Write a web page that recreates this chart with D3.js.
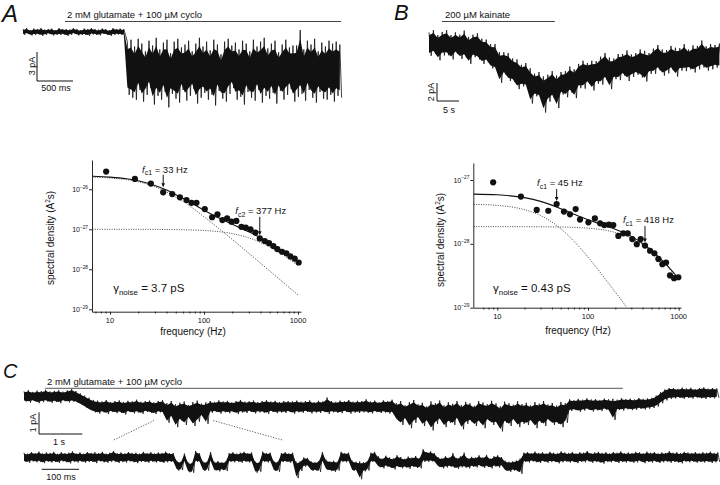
<!DOCTYPE html>
<html><head><meta charset="utf-8">
<script src="https://cdn.jsdelivr.net/npm/d3@7"></script>
<style>
body{margin:0;background:#fff}
svg{display:block}
text{font-family:"Liberation Sans",Arial,Helvetica,sans-serif;fill:#111}
</style></head>
<body><svg id="c" width="720" height="485"></svg>
<script>
// ================= DATA =================
// Panel A trace: min/max envelope per 50-ms bin (pA), t from 0 ms
const aStim = [583, 4417];            // ms, glutamate + cyclothiazide bar
const aBinMs = 50;
const aHi = [0.3,0.4,0.2,0.35,0.3,0.4,0.25,0.3,0.35,0.2,0.4,0.3,0.3,0.25,0.4,0.3,0.2,0.35,0.3,0.4,0.3,0.25,0.35,0.3,0.2,0.4,0.3,0.35,0.3,
 -1.0,-0.8,-1.5,-0.7,-1.2,-2.0,-0.9,-1.4,-0.6,-1.8,-1.1,-0.8,-2.2,-1.0,-0.7,-1.6,-1.3,-0.9,-2.0,-1.2,
 -0.6,-1.5,-1.0,-1.9,-0.8,-1.3,-2.3,-1.0,-0.7,-1.4,-1.1,-1.8,-0.9,-1.2,-2.0,-0.8,-1.5,-1.0,-0.6,-1.7,
 -1.2,-0.9,-2.1,-1.3,-0.8,-1.6,-1.4,-1.4,0.2,-1.8,-0.9,-1.3,-0.7,-2.0,-1.1,-1.5,-0.9,-1.2,-1.0,-1.3];
const aLo = [-0.3,-0.2,-0.35,-0.3,-0.25,-0.4,-0.3,-0.2,-0.35,-0.3,-0.3,-0.25,-0.4,-0.3,-0.2,-0.35,-0.3,-0.3,-0.4,-0.25,-0.3,-0.35,-0.2,-0.3,-0.4,-0.3,-0.25,-0.3,-0.35,
 -6.5,-6.8,-7.0,-6.0,-7.2,-6.5,-5.8,-7.5,-6.6,-7.0,-6.2,-7.8,-6.4,-6.9,-7.3,-6.0,-7.1,-6.6,-5.9,-7.4,
 -6.8,-6.3,-7.0,-6.5,-7.6,-6.1,-6.9,-7.2,-6.4,-5.8,-7.0,-6.7,-7.5,-6.2,-6.8,-7.1,-6.0,-7.3,-6.6,-6.9,
 -6.3,-7.4,-6.1,-7.0,-6.5,-5.9,-7.2,-6.7,-6.4,-7.1,-6.0,-6.8,-7.3,-6.2,-6.9,-7.0,-6.5,-7.2,-6.6,-6.8];

// Panel B trace: min/max per 1-s bin (pA)
const bStim = [2.95, 28.6];           // s, kainate bar
const bBinS = 1;
const bHi = [1.4,1.65,1.1,1.45,1.65,1.1,1.4,1.15,1.6,0.9,1.15,1.3,0.7,0.6,0.1,0.1,-0.8,-0.8,-0.9,-1.5,
 -1.6,-2.2,-2.0,-2.6,-3.2,-3.0,-3.5,-3.3,-2.9,-3.4,-3.0,-2.9,-2.4,-2.7,-2.1,-1.75,-2.0,-1.75,-1.8,-1.3,
 -0.9,-1.4,-1.5,-1.0,-1.0,-0.6,-1.05,-0.9,-0.5,-0.65,-0.9,-0.4,0.0,-0.5,-0.55,-0.1,-0.3,-0.35,0.1,-0.5,
 -0.05,-0.1,0.5,-0.15,0.1,0.0,0.15];
const bLo = [-1.2,-0.95,-1.7,-1.15,-1.15,-1.6,-1.0,-1.55,-1.4,-2.1,-1.35,-1.6,-2.1,-1.9,-2.6,-2.8,-4.2,-3.3,-4.0,-4.1,
 -4.9,-4.6,-4.7,-6.5,-5.7,-5.9,-7.5,-6.3,-5.9,-7.0,-5.5,-5.8,-5.3,-5.9,-4.8,-4.85,-4.3,-5.05,-4.3,-4.4,
 -3.9,-4.9,-3.8,-3.9,-3.4,-4.0,-3.55,-3.3,-3.6,-4.05,-3.2,-3.2,-2.8,-3.4,-3.15,-2.8,-3.5,-2.85,-2.9,-2.7,
 -3.05,-2.7,-2.5,-2.85,-2.7,-2.5,-2.6];

// Panel C upper trace: min/max per 0.1-s bin (pA)
const cStim = [0.49, 13.83];          // s
const cBinS = 0.1;
const cHi = [0.25,0.3,0.22,0.28,0.26,0.32,0.24,0.27,0.3,0.23,0.29,0.35,0.26,
 0.15,0.05,-0.05,-0.15,
 -0.18,-0.22,-0.15,-0.25,-0.2,-0.17,-0.24,-0.19,-0.21,-0.14,-0.23,-0.2,-0.18,-0.26,-0.2,-0.16,
 -0.3,-0.2,-0.35,-0.28,-0.22,-0.38,-0.25,-0.18,-0.32,-0.26,
 -0.2,-0.24,-0.17,-0.22,-0.19,-0.26,-0.2,-0.15,-0.23,-0.21,-0.18,-0.25,-0.2,-0.16,-0.22,-0.19,-0.24,-0.2,-0.2,-0.21,
 -0.18,-0.23,-0.2,-0.17,-0.25,-0.19,-0.22,-0.04,-0.2,-0.24,-0.18,-0.21,-0.15,-0.23,-0.19,-0.2,-0.12,-0.22,-0.18,-0.25,
 -0.17,-0.2,-0.14,
 -0.3,-0.2,-0.4,-0.25,-0.15,-0.35,-0.28,-0.45,-0.22,-0.3,-0.18,-0.4,-0.26,-0.33,-0.2,-0.38,-0.24,-0.3,-0.42,-0.2,
 -0.27,-0.35,-0.19,-0.31,-0.44,-0.23,-0.3,-0.37,-0.21,-0.34,-0.28,-0.4,-0.25,-0.32,-0.2,-0.36,-0.29,-0.41,-0.24,-0.3,
 -0.12,-0.16,-0.1,-0.14,-0.08,-0.13,-0.11,-0.15,-0.09,-0.12,-0.1,-0.14,-0.07,-0.11,-0.09,-0.13,-0.06,-0.1,-0.08,-0.05,
 0.05,0.2,0.33,0.4,
 0.4,0.36,0.42,0.38,0.41,0.35,0.4,0.43,0.37,0.4,0.38];
const cLo = [-0.22,-0.27,-0.2,-0.3,-0.25,-0.22,-0.28,-0.24,-0.3,-0.21,-0.26,-0.23,-0.28,
 -0.38,-0.5,-0.62,-0.72,
 -0.78,-0.72,-0.8,-0.7,-0.76,-0.74,-0.82,-0.71,-0.77,-0.73,-0.79,-0.7,-0.75,-0.8,-0.72,-0.76,
 -1.2,-0.95,-1.4,-1.1,-1.3,-1.0,-1.35,-1.15,-0.9,-1.25,
 -0.74,-0.7,-0.78,-0.72,-0.76,-0.71,-0.8,-0.73,-0.75,-0.7,-0.77,-0.72,-0.74,-0.79,-0.7,-0.76,-0.73,-0.75,-0.71,-0.78,
 -0.72,-0.74,-0.7,-0.77,-0.73,-0.75,-0.71,-0.79,-0.72,-0.74,-0.76,-0.7,-0.78,-0.73,-0.75,-0.72,-0.74,-0.77,-0.71,-0.75,
 -0.73,-0.78,-0.76,
 -1.1,-1.3,-1.05,-1.45,-1.2,-1.0,-1.35,-1.15,-1.55,-1.25,-1.1,-1.4,-1.2,-1.3,-1.05,-1.5,-1.25,-1.15,-1.35,-1.2,
 -1.45,-1.1,-1.3,-1.25,-1.6,-1.2,-1.35,-1.1,-1.4,-1.25,-1.3,-1.15,-1.45,-1.2,-1.35,-1.1,-1.3,-1.25,-1.4,-1.2,
 -0.66,-0.62,-0.7,-0.64,-0.6,-0.68,-0.63,-0.66,-0.6,-0.65,-1.07,-0.61,-0.64,-0.58,-0.62,-0.6,-0.56,-0.59,-0.55,-0.52,
 -0.45,-0.3,-0.17,-0.1,
 -0.08,-0.05,-0.1,-0.06,-0.09,-0.04,-0.08,-0.1,-0.06,-0.07,-0.05];

// Panel C lower (expanded) trace: min/max per 10-ms bin (pA)
const dBinMs = 10;
const dZoomSrc = [3.0, 4.37];         // s on upper trace that is expanded
const dHi = [0.22,0.18,0.25,0.2,0.27,0.19,0.23,0.21,0.26,0.17,0.24,0.2,0.22,0.28,0.19,0.23,0.18,0.25,0.21,0.24,
 0.2,0.26,0.18,0.22,0.3,0.2,0.23,0.19,0.25,0.21,0.22,0.18,0.26,0.2,0.24,0.19,0.23,0.21,0.27,0.2,
 0.2,-0.15,-0.2,0.18,-0.22,-0.25,0.3,0.2,-0.18,-0.2,0.25,-0.2,-0.17,-0.22,-0.19,
 0.2,0.24,0.18,0.22,0.26,0.2,0.23,-0.18,-0.22,0.27,0.2,0.22,-0.16,-0.2,0.2,0.24,0.19,0.22,
 -0.2,-0.18,0.0,-0.02,-0.18,-0.22,-0.16,0.25,-0.1,-0.18,-0.15,-0.2,0.26,0.2,0.22,
 -0.15,-0.2,-0.18,-0.22,-0.17,0.22,0.26,
 0.05,-0.05,0.08,0.0,-0.04,0.1,0.02,-0.06,0.04,0.0,0.07,-0.02,
 0.38,0.25,0.28,0.2,
 0.02,-0.04,0.06,0.0,0.2,-0.02,0.05,0.22,-0.03,0.03,0.0,
 0.1,0.0,0.12,-0.05,0.06,0.1,0.02,
 -0.15,-0.2,-0.18,-0.14,-0.05,
 0.22,0.25,0.2,0.27,0.21,0.24,0.19,0.26,0.22,0.2,0.28,0.23,0.21,0.25,0.19,0.24,0.22,0.3,0.2,0.23,
 0.26,0.21,0.24,0.19,0.25,0.22,0.28,0.2,0.23,0.21,0.26,0.24,0.2,0.27,0.22,0.25,0.19,0.23,0.21,0.29,
 0.22,0.24,0.2,0.26,0.23,0.21,0.25,0.2,0.24,0.22,0.27,0.21,0.23];
const dLo = [-0.2,-0.24,-0.18,-0.22,-0.2,-0.26,-0.19,-0.23,-0.21,-0.25,-0.18,-0.22,-0.27,-0.2,-0.23,-0.19,-0.24,-0.21,-0.2,-0.26,
 -0.18,-0.22,-0.24,-0.2,-0.19,-0.25,-0.21,-0.23,-0.18,-0.22,-0.26,-0.2,-0.21,-0.24,-0.19,-0.23,-0.2,-0.25,-0.22,-0.2,
 -0.22,-0.6,-0.58,-0.2,-0.68,-0.7,-0.2,-0.22,-0.62,-0.6,-0.18,-0.6,-0.64,-0.58,-0.62,
 -0.2,-0.22,-0.19,-0.24,-0.2,-0.23,-0.21,-0.7,-0.65,-0.2,-0.23,-0.19,-0.62,-0.66,-0.21,-0.2,-0.24,-0.2,
 -0.95,-0.62,-0.42,-0.4,-0.62,-0.6,-0.66,-0.2,-0.58,-0.62,-0.66,-0.6,-0.2,-0.22,-0.19,
 -0.62,-0.6,-1.0,-0.64,-0.6,-0.2,-0.22,
 -0.45,-0.5,-0.42,-0.48,-0.55,-0.44,-0.5,-0.46,-0.52,-0.43,-0.48,-0.5,
 -0.2,-0.2,-0.18,-0.22,
 -0.44,-0.5,-0.46,-0.42,-0.48,-0.52,-0.45,-0.47,-0.5,-0.43,-0.46,
 -0.4,-0.48,-0.44,-0.5,-0.42,-0.46,-0.4,
 -0.62,-0.66,-0.6,-0.64,-0.75,
 -0.2,-0.23,-0.18,-0.22,-0.25,-0.19,-0.24,-0.21,-0.2,-0.27,-0.22,-0.19,-0.23,-0.21,-0.26,-0.2,-0.22,-0.18,-0.24,-0.21,
 -0.23,-0.28,-0.2,-0.22,-0.19,-0.25,-0.21,-0.23,-0.2,-0.24,-0.22,-0.18,-0.26,-0.21,-0.23,-0.2,-0.25,-0.22,-0.19,-0.24,
 -0.21,-0.23,-0.27,-0.2,-0.22,-0.19,-0.24,-0.21,-0.23,-0.2,-0.25,-0.22,-0.2];

// Spectrum A: measured points (Hz, A^2 s)
const psdAFreq = [9.1,18.4,27.2,36.8,45.9,55.4,65.2,73.6,83.2,102,122,139,157,176,196,221,250,278,312,352,392,443,492,547,603,676,752,829,922,1017];
const psdAVal = [2.77e-26,1.82e-26,1.39e-26,8.4e-27,7.6e-27,6.3e-27,5.4e-27,4.6e-27,4.6e-27,3.2e-27,2.0e-27,2.36e-27,1.7e-27,1.87e-27,1.55e-27,1.62e-27,1.15e-27,1.1e-27,1.0e-27,8.3e-28,5.9e-28,5.1e-28,4.5e-28,3.8e-28,3.2e-28,2.75e-28,2.5e-28,2.1e-28,1.85e-28,1.48e-28];
// Spectrum A: fitted Lorentzian curves
const fitAFreq = [6.5,10,15,20,30,40,50,70,100,150,200,300,400,500,700,1000];
const fitA1 = [2.02e-26,1.92e-26,1.74e-26,1.54e-26,1.15e-26,8.6e-27,6.37e-27,3.9e-27,2.06e-27,9.7e-28,5.57e-28,2.51e-28,1.42e-28,9.1e-29,4.66e-29,2.29e-29];
const fitA2 = [1e-27,1e-27,9.98e-28,9.97e-28,9.94e-28,9.89e-28,9.83e-28,9.67e-28,9.34e-28,8.63e-28,7.8e-28,6.12e-28,4.7e-28,3.62e-28,2.25e-28,1.24e-28];
const fitASum = [2.12e-26,2.02e-26,1.84e-26,1.64e-26,1.25e-26,9.59e-27,7.35e-27,4.87e-27,2.99e-27,1.83e-27,1.34e-27,8.63e-28,6.12e-28,4.53e-28,2.72e-28,1.47e-28];

// Spectrum B
const psdBFreq = [9.0,18.2,27.2,36.5,45.1,54.3,63.3,73.1,81.6,101,119,136,151,170,190,216,245,274,308,345,381,425,483,539,597,661,725,802,889,991];
const psdBVal = [9.2e-28,5.5e-28,3.4e-28,3.3e-28,4.2e-28,3.2e-28,2.9e-28,3.5e-28,2.4e-28,2.17e-28,2.5e-28,2.1e-28,1.97e-28,2.0e-28,1.97e-28,1.33e-28,1.46e-28,1.46e-28,1.19e-28,9.9e-29,1.19e-28,9.4e-29,7.8e-29,7.1e-29,5.8e-29,4.8e-29,5.1e-29,3.2e-29,2.9e-29,3.0e-29];
const fitB1Freq = [5.5,10,20,30,45,70,100,150,200,250,265];
const fitB1 = [4.15e-28,4.0e-28,3.43e-28,2.78e-28,1.95e-28,1.1e-28,6.2e-29,3.0e-29,1.75e-29,1.15e-29,1.02e-29];
const fitBFreq = [5.5,10,20,30,45,70,100,150,200,250,300,418,500,600,700,800,900,1000];
const fitB2 = [1.86e-28,1.86e-28,1.856e-28,1.85e-28,1.84e-28,1.81e-28,1.76e-28,1.65e-28,1.51e-28,1.37e-28,1.23e-28,9.3e-29,7.6e-29,6.05e-29,4.93e-29,3.99e-29,3.3e-29,2.77e-29];
const fitBSum = [6.01e-28,5.86e-28,5.29e-28,4.63e-28,3.79e-28,2.91e-28,2.38e-28,1.95e-28,1.69e-28,1.49e-28,1.31e-28,9.7e-29,7.9e-29,6.25e-29,5.08e-29,4.1e-29,3.4e-29,2.84e-29];

const yTickVals = [1e-26,1e-27,1e-28,1e-29];
const yTickValsB = [1e-27,1e-28,1e-29];
const xTickVals = [10,100,1000];
const xMinorVals = [7,8,9,20,30,40,50,60,70,80,90,200,300,400,500,600,700,800,900];

// ================= DRAWING =================
const svg = d3.select("#c");
const INK = "#111";

function txt(g, x, y, s, size, opts) {
  opts = opts || {};
  const t = g.append("text").attr("x", x).attr("y", y).attr("font-size", size).text(s);
  if (opts.anchor) t.attr("text-anchor", opts.anchor);
  if (opts.italic) t.attr("font-style", "italic");
  if (opts.rot) t.attr("transform", `rotate(-90,${x},${y})`);
  return t;
}

// noisy trace: solid core (inner part of each bin's min–max range) plus
// a zig-zag stroke through every bin's max and min
function trace(g, xs, ys, t0, dt, hi, lo, trim, sw) {
  const n = Math.min(hi.length, lo.length);
  const d = d3.range(n).map(i => ({t: t0 + i * dt, h: hi[i], l: lo[i]}));
  g.append("path").datum(d)
    .attr("d", d3.area().x(p => xs(p.t))
      .y0(p => ys(p.l + (p.h - p.l) * trim)).y1(p => ys(p.h - (p.h - p.l) * trim)))
    .attr("fill", INK);
  const z = [];
  d.forEach(p => { z.push([xs(p.t), ys(p.h)]); z.push([xs(p.t + dt / 2), ys(p.l)]); });
  g.append("path").attr("d", d3.line()(z)).attr("fill", "none")
    .attr("stroke", INK).attr("stroke-width", sw).attr("stroke-linejoin", "bevel");
}

function hline(g, x1, x2, y, w, col) {
  g.append("line").attr("x1", x1).attr("x2", x2).attr("y1", y).attr("y2", y)
    .attr("stroke", col || INK).attr("stroke-width", w || 1);
}
function vline(g, x, y1, y2, w, col) {
  g.append("line").attr("x1", x).attr("x2", x).attr("y1", y1).attr("y2", y2)
    .attr("stroke", col || INK).attr("stroke-width", w || 1);
}

// ---------- Panel A trace ----------
{
  const g = svg.append("g");
  const x = d3.scaleLinear().domain([0, 4400]).range([23, 339.8]);
  const y = d3.scaleLinear().domain([0, -3]).range([32, 61]);
  txt(g, 2, 22, "A", 24, {italic: true});
  txt(g, 67, 18, "2 mM glutamate + 100 \u00B5M cyclo", 9.5);
  hline(g, x(aStim[0]), x(aStim[1]), 21.5, 1, "#444");
  trace(g, x, y, 0, aBinMs, aHi, aLo, 0.14, 0.8);
  const sx = 37, sy = 81;
  vline(g, sx, sy, sy - (y(-3) - y(0)), 1);
  hline(g, sx, sx + x(500) - x(0), sy, 1);
  txt(g, 34.5, 66, "3 pA", 9, {anchor: "middle", rot: true});
  txt(g, 56, 91, "500 ms", 9, {anchor: "middle"});
}

// ---------- Panel B trace ----------
{
  const g = svg.append("g");
  const x = d3.scaleLinear().domain([0, 5]).range([429, 451]);
  const y = d3.scaleLinear().domain([0, -2]).range([45, 63]);
  txt(g, 394, 20, "B", 22, {italic: true});
  txt(g, 445, 18, "200 \u00B5M kainate", 9.5);
  hline(g, x(bStim[0]), x(bStim[1]), 21.5, 1, "#444");
  trace(g, x, y, 0, bBinS, bHi, bLo, 0.12, 0.8);
  const sx = 437, sy = 101;
  vline(g, sx, sy, sy - (y(-2) - y(0)), 1);
  hline(g, sx, sx + x(5) - x(0), sy, 1);
  txt(g, 433.5, 92, "2 pA", 9, {anchor: "middle", rot: true});
  txt(g, 449, 113, "5 s", 9, {anchor: "middle"});
}

// ---------- Spectra ----------
function supText(g, x, y, base, sup, size, anchor) {
  const t = g.append("text").attr("x", x).attr("y", y).attr("font-size", size);
  if (anchor) t.attr("text-anchor", anchor);
  t.append("tspan").text(base);
  t.append("tspan").attr("dy", -size * 0.45).attr("font-size", size * 0.68).text(sup);
  return t;
}
function fcLabel(g, x, y, sub, rest) {
  const t = g.append("text").attr("x", x).attr("y", y).attr("font-size", 9.5);
  t.append("tspan").attr("font-style", "italic").text("f");
  t.append("tspan").attr("dy", 2.5).attr("font-size", 7).text(sub);
  t.append("tspan").attr("dy", -2.5).text(" = " + rest);
}
function gammaLabel(g, x, y, rest) {
  const t = g.append("text").attr("x", x).attr("y", y).attr("font-size", 11.5);
  t.append("tspan").text("\u03B3");
  t.append("tspan").attr("dy", 2.5).attr("font-size", 8).text("noise");
  t.append("tspan").attr("dy", -2.5).text(" = " + rest);
}
function arrow(g, x, y1, y2) {
  vline(g, x, y1, y2 - 2, 1);
  g.append("path").attr("d", `M${x - 1.8},${y2 - 4}L${x},${y2}L${x + 1.8},${y2 - 4}Z`).attr("fill", INK);
}

function spectrum(cfg) {
  const g = svg.append("g");
  const xa = d3.scaleLog().domain([10, 1000]).range(cfg.xAnchor);
  const x = d3.scaleLog().domain([xa.invert(cfg.xPix[0]), xa.invert(cfg.xPix[1])]).range(cfg.xPix);
  const ya = d3.scaleLog().domain(cfg.yAnchorVal).range(cfg.yAnchorPix);
  const y = d3.scaleLog().domain([ya.invert(cfg.yPix[0]), ya.invert(cfg.yPix[1])]).range(cfg.yPix);
  const x0 = cfg.xPix[0], yb = cfg.yPix[0];

  const clipId = "clip" + cfg.id;
  svg.append("clipPath").attr("id", clipId).append("rect")
    .attr("x", x0).attr("y", cfg.yPix[1]).attr("width", cfg.xPix[1] - x0).attr("height", yb - cfg.yPix[1]);

  const ay = g.append("g").attr("transform", `translate(${x0},0)`)
    .call(d3.axisLeft(y).tickValues(cfg.yTicks).tickSize(3).tickSizeOuter(0).tickFormat(""));
  const ax = g.append("g").attr("transform", `translate(0,${yb})`)
    .call(d3.axisBottom(x).tickValues(xTickVals).tickSize(3).tickSizeOuter(0).tickFormat(""));
  const am = g.append("g").attr("transform", `translate(0,${yb})`)
    .call(d3.axisBottom(x).tickValues(xMinorVals.filter(v => v > x.domain()[0])).tickSize(1.8).tickFormat(""));
  am.select(".domain").remove();
  [ay, ax, am].forEach(a => a.selectAll("path,line").attr("stroke", INK).attr("stroke-width", 0.9));

  cfg.yTicks.forEach(v => supText(g, x0 - 4, y(v) + 2.5, "10", "\u2212" + String(-Math.round(Math.log10(v))), 7, "end"));
  xTickVals.forEach(v => txt(g, x(v), yb + 11, String(v), 7.5, {anchor: "middle"}));

  const yl = g.append("text").attr("font-size", 10).attr("text-anchor", "middle")
    .attr("transform", `translate(${cfg.yTitle[0]},${cfg.yTitle[1]}) rotate(-90)`);
  yl.append("tspan").text("spectral density (A");
  yl.append("tspan").attr("dy", -4).attr("font-size", 6.5).text("2");
  yl.append("tspan").attr("dy", 4).text("s)");
  txt(g, cfg.xTitle[0], cfg.xTitle[1], "frequency (Hz)", 10, {anchor: "middle"});

  const cg = g.append("g").attr("clip-path", `url(#${clipId})`);
  const ln = (fs, vs) => d3.line().curve(d3.curveMonotoneX)(fs.map((f, i) => [x(f), y(vs[i])]));
  cfg.dotted.forEach(c => cg.append("path").attr("d", ln(c[0], c[1])).attr("fill", "none")
    .attr("stroke", "#333").attr("stroke-width", 0.9).attr("stroke-dasharray", "1,1.4"));
  cg.append("path").attr("d", ln(cfg.solid[0], cfg.solid[1])).attr("fill", "none")
    .attr("stroke", INK).attr("stroke-width", 1.1);

  g.selectAll(null).data(cfg.pf).enter().append("circle")
    .attr("cx", f => x(f)).attr("cy", (f, i) => y(cfg.pv[i])).attr("r", 3.1).attr("fill", INK);

  cfg.fc.forEach(a => {
    fcLabel(g, x(a.lf), y(a.lv), a.sub, a.text);
    arrow(g, x(a.af), y(a.a1), y(a.a2));
  });
  gammaLabel(g, x(cfg.gam.f), y(cfg.gam.v), cfg.gam.text);
}

spectrum({
  id: "A", xAnchor: [110, 298], xPix: [92, 301],
  yAnchorVal: [1e-26, 1e-29], yAnchorPix: [189.3, 309.3], yPix: [311.7, 160],
  yTicks: yTickVals, yTitle: [54, 238], xTitle: [193, 335],
  dotted: [[fitAFreq, fitA1], [fitAFreq, fitA2]], solid: [fitAFreq, fitASum],
  pf: psdAFreq, pv: psdAVal,
  fc: [{lf: 21.9, lv: 2.6e-26, sub: "c1", text: "33 Hz", af: 36.8, a1: 2.3e-26, a2: 1.12e-26},
       {lf: 215, lv: 2.4e-27, sub: "c2", text: "377 Hz", af: 392, a1: 2.05e-27, a2: 7.1e-28}],
  gam: {f: 10.8, v: 2.7e-29, text: "3.7 pS"}
});
spectrum({
  id: "B", xAnchor: [497.3, 678.7], xPix: [473.3, 681],
  yAnchorVal: [1e-27, 1e-29], yAnchorPix: [180, 307.7], yPix: [307.7, 163],
  yTicks: yTickValsB, yTitle: [444, 240], xTitle: [578, 334],
  dotted: [[fitB1Freq, fitB1], [fitBFreq, fitB2]], solid: [fitBFreq, fitBSum],
  pf: psdBFreq, pv: psdBVal,
  fc: [{lf: 27.4, lv: 8.05e-28, sub: "c1", text: "45 Hz", af: 45.1, a1: 7.2e-28, a2: 4.7e-28},
       {lf: 243, lv: 2.12e-28, sub: "c1", text: "418 Hz", af: 425, a1: 1.9e-28, a2: 1.05e-28}],
  gam: {f: 8.96, v: 1.76e-29, text: "0.43 pS"}
});

// ---------- Panel C ----------
{
  const g = svg.append("g");
  const x = d3.scaleLinear().domain([0, 1]).range([24, 67.3]);
  const y = d3.scaleLinear().domain([0, -1]).range([396.7, 418.4]);
  const xd = d3.scaleLinear().domain([0, 100]).range([24, 61.3]);
  const yd = d3.scaleLinear().domain([0, -1]).range([457.5, 479.2]);
  txt(g, 3, 378, "C", 20, {italic: true});
  txt(g, 47, 385, "2 mM glutamate + 100 \u00B5M cyclo", 9.5);
  hline(g, x(cStim[0]), x(cStim[1]), 388.3, 1, "#555");
  trace(g, x, y, 0, cBinS, cHi, cLo, 0.1, 0.8);
  trace(g, xd, yd, 0, dBinMs, dHi, dLo, 0.1, 0.8);
  g.append("line").attr("x1", x(dZoomSrc[0])).attr("y1", y(-1.1)).attr("x2", xd(240)).attr("y2", yd(0.8))
    .attr("stroke", "#333").attr("stroke-width", 0.8).attr("stroke-dasharray", "1.2,1.5");
  g.append("line").attr("x1", x(dZoomSrc[1])).attr("y1", y(-1.1)).attr("x2", xd(694)).attr("y2", yd(0.8))
    .attr("stroke", "#333").attr("stroke-width", 0.8).attr("stroke-dasharray", "1.2,1.5");
  const sx = 39, sy = 434;
  vline(g, sx, sy, sy - (y(-1) - y(0)), 1);
  hline(g, sx, sx + x(1) - x(0), sy, 1);
  txt(g, 36, 423, "1 pA", 9, {anchor: "middle", rot: true});
  txt(g, 59, 444.5, "1 s", 9, {anchor: "middle"});
  hline(g, 41.7, 41.7 + xd(100) - xd(0), 469.3, 1);
  txt(g, 61, 480, "100 ms", 9, {anchor: "middle"});
}
</script></body></html>
